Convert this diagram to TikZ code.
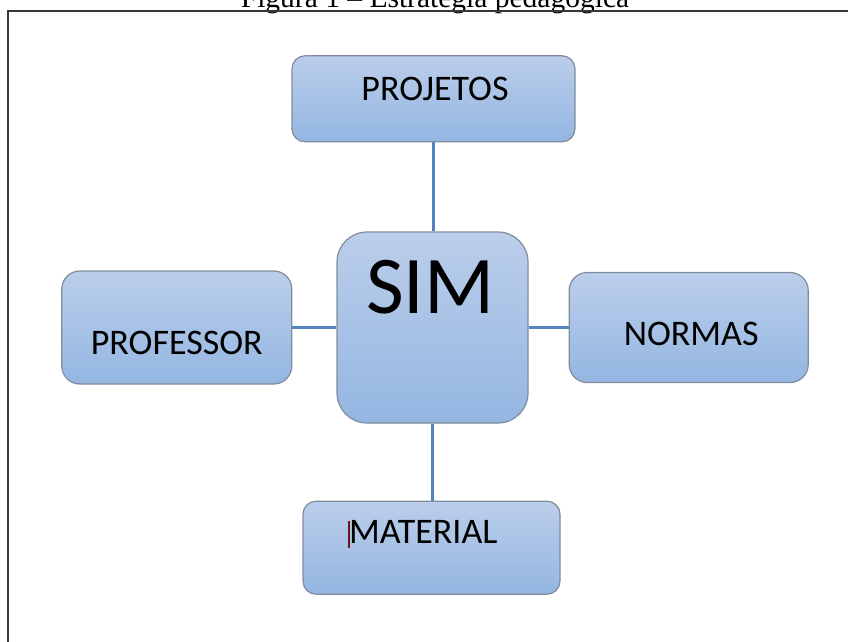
\documentclass[tikz,border=0pt]{standalone}
\usepackage{fontspec}
\setmainfont{Carlito}
\newfontfamily\titlefont{Liberation Serif}
\usetikzlibrary{positioning}

\definecolor{boxtop}{RGB}{187,206,234}
\definecolor{boxbot}{RGB}{148,182,226}
\definecolor{boxline}{RGB}{128,140,158}
\definecolor{linkblue}{RGB}{84,130,188}
\definecolor{framegray}{RGB}{55,55,55}
\definecolor{cursorred}{RGB}{110,20,20}

\tikzset{
  box/.style={draw=boxline, line width=1.2pt, top color=boxtop, bottom color=boxbot,
    inner sep=0pt, rounded corners=13pt},
  txt/.style={inner sep=0pt, font=\fontsize{36}{40}\selectfont},
  link/.style={draw=linkblue, line width=2.2pt},
}

\begin{document}
\begin{tikzpicture}[x=1pt, y=-1pt]
  \useasboundingbox (0,0) rectangle (848,641);

  % Caption and frame
  \node[anchor=base, inner sep=0pt, font=\titlefont\fontsize{29.5}{32}\selectfont] (title) at (435,7)
    {Figura 1 – Estratégia pedagógica};
  \draw[framegray, line width=2.4pt] (8,660) |- (870,11);

  %Define nodes
  \node[box, minimum width=191pt, minimum height=191pt, rounded corners=30pt] (sim) at (432.5,327.5) {};
  \node[box, minimum width=283pt, minimum height=86pt, above=89pt of sim, xshift=1pt] (proj) {};
  \node[box, minimum width=230pt, minimum height=113pt, left=44pt of sim, rounded corners=18pt] (prof) {};
  \node[box, minimum width=239pt, minimum height=110pt, right=40pt of sim, rounded corners=18pt] (norm) {};
  \node[box, minimum width=257pt, minimum height=93pt, below=77pt of sim, xshift=-1pt] (mat) {};

  % Texts in the boxes
  \node[inner sep=0pt, font=\fontsize{82}{86}\selectfont, yshift=40pt, xshift=-2pt] (tsim) at (sim) {SIM};
  \node[txt, yshift=10pt, xshift=1.5pt] (tproj) at (proj) {PROJETOS};
  \node[txt, yshift=-15.5pt] (tprof) at (prof) {PROFESSOR};
  \node[txt, yshift=-6pt, xshift=2.5pt] (tnorm) at (norm) {NORMAS};
  \node[txt, yshift=13.5pt, xshift=-9pt] (tmat) at (mat)
    {\textcolor{cursorred}{\rule[-4pt]{2.5pt}{27pt}}\kern-1pt MATERIAL};

  % Connect the nodes
  \draw[link] (proj.south) -- (proj.south |- sim.north);
  \draw[link] (sim.south) -- (sim.south |- mat.north);
  \draw[link] (prof.east) -- (prof.east -| sim.west);
  \draw[link] (sim.east) -- (sim.east -| norm.west);

\end{tikzpicture}
\end{document}
